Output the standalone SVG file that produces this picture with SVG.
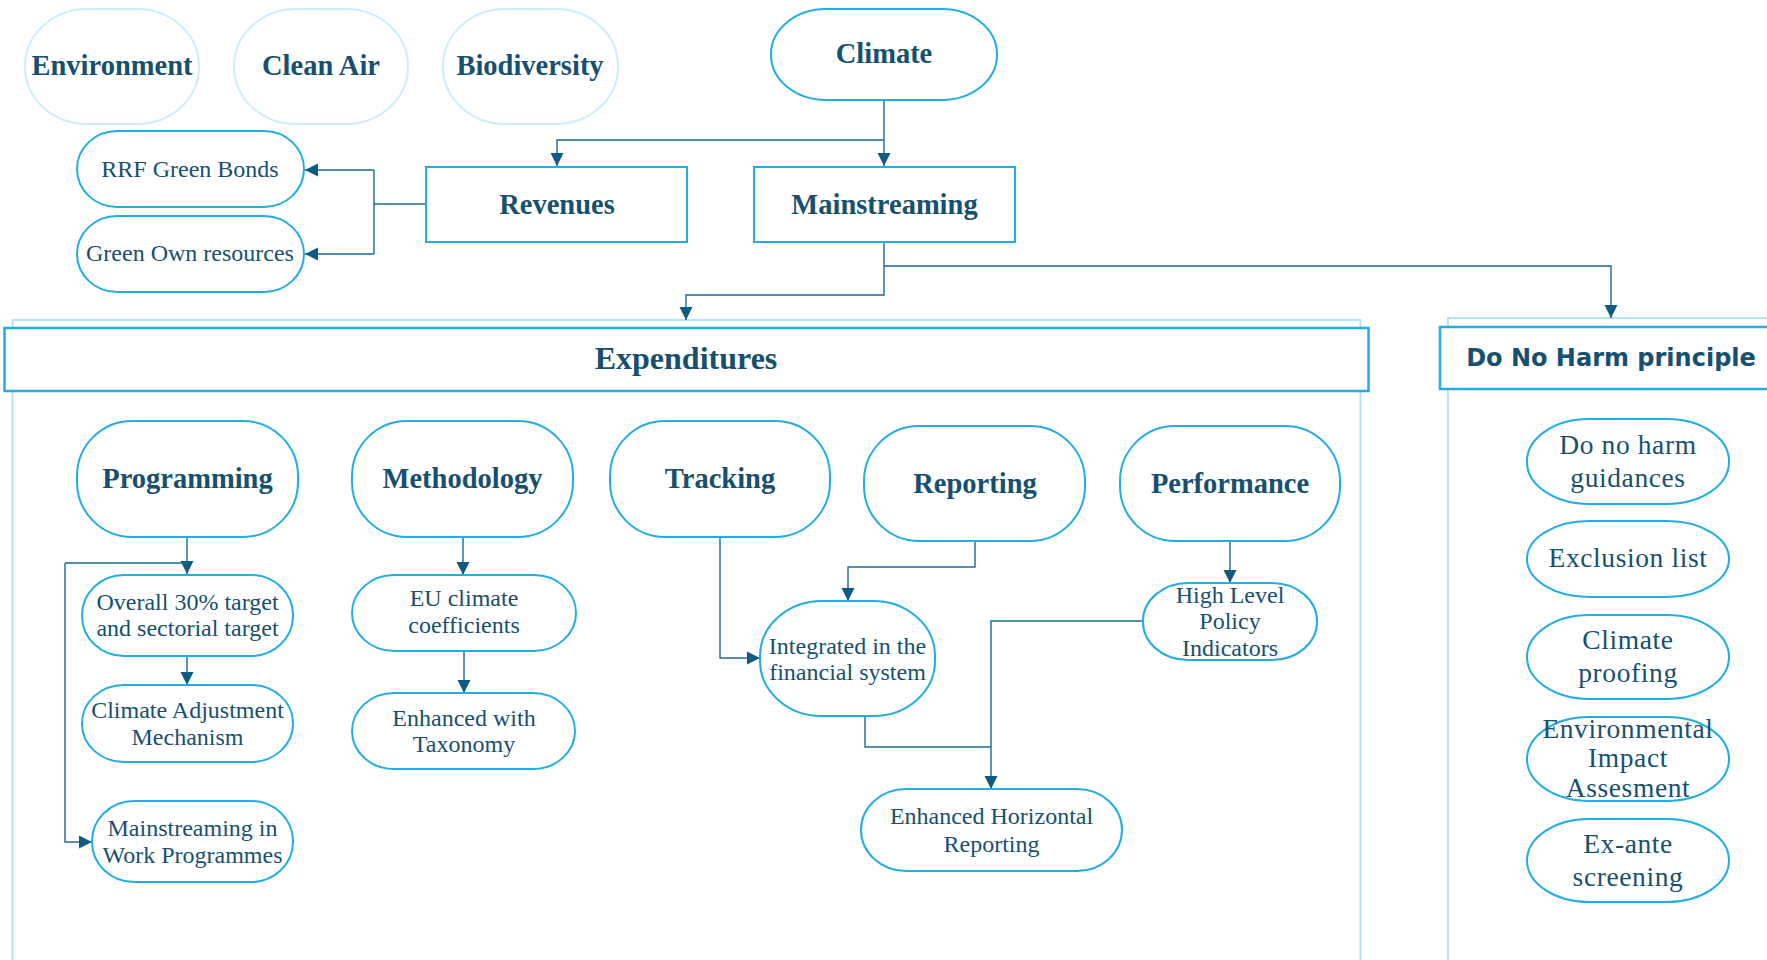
<svg xmlns="http://www.w3.org/2000/svg" width="1767" height="960" viewBox="0 0 1767 960">
<defs>
<marker id="arr" markerUnits="userSpaceOnUse" markerWidth="14" markerHeight="14" viewBox="0 0 14 14" refX="13" refY="7" orient="auto">
<path d="M0,0.5 L13,7 L0,13.5 Z" fill="#0f5b82"/>
</marker>
<style>
.n{fill:#fff;stroke:#22ade4;stroke-width:2}
.lt{fill:#fff;stroke:#cdeefa;stroke-width:2}
.ct{fill:none;stroke:#b6e3f5;stroke-width:2}
.hd{fill:#fff;stroke:#22ade4;stroke-width:2.5}
.c{fill:none;stroke:#1b6a90;stroke-width:1.4}
.ca{fill:none;stroke:#1b6a90;stroke-width:1.4;marker-end:url(#arr)}
text{fill:#17506e;font-family:"Liberation Serif","DejaVu Serif",serif;text-anchor:middle}
.b{font-weight:bold;font-size:28.5px}
.r{font-size:24px}
.w{font-size:27.5px;letter-spacing:0.6px}
.s{font-family:"DejaVu Sans","Liberation Sans",sans-serif;font-weight:bold;font-size:24px}
</style>
</defs>
<rect width="1767" height="960" fill="#fff"/>

<g id="containers">
<rect class="ct" x="12.5" y="320" width="1348" height="680"/>
<rect class="ct" x="1448" y="318" width="400" height="700"/>
</g>

<g id="connectors">
<path class="ca" d="M884,100 V166"/>
<path class="ca" d="M884,140 H557 V166"/>
<path class="c" d="M426,204 H374"/>
<path class="c" d="M374,170 V254"/>
<path class="ca" d="M374,170 H305"/>
<path class="ca" d="M374,254 H305"/>
<path class="ca" d="M884,243 V295 H686 V320"/>
<path class="ca" d="M884,266 H1611 V318"/>
<path class="ca" d="M187,537 V574"/>
<path class="c" d="M65,563 H187"/>
<path class="ca" d="M65,563 V842 H92"/>
<path class="ca" d="M187,656 V685"/>
<path class="ca" d="M463,537 V575"/>
<path class="ca" d="M464,651 V693"/>
<path class="ca" d="M720,537 V658 H760"/>
<path class="ca" d="M975,541 V567 H848 V601"/>
<path class="ca" d="M1230,541 V583"/>
<path class="ca" d="M1143,621 H991 V789"/>
<path class="c" d="M865,716 V747 H991"/>
</g>

<g id="environment"><rect class="lt" x="25" y="9" width="174" height="115" rx="62" ry="57"/><text class="b" x="112" y="75">Environment</text></g>
<g id="clean-air"><rect class="lt" x="234" y="9" width="174" height="115" rx="62" ry="57"/><text class="b" x="321" y="75">Clean Air</text></g>
<g id="biodiversity"><rect class="lt" x="443" y="9" width="175" height="115" rx="62" ry="57"/><text class="b" x="530" y="75">Biodiversity</text></g>
<g id="climate"><rect class="n" x="771" y="9" width="226" height="91" rx="55" ry="45"/><text class="b" x="884" y="63">Climate</text></g>

<g id="revenues"><rect class="n" x="426" y="167" width="261" height="75"/><text class="b" x="557" y="214">Revenues</text></g>
<g id="mainstreaming"><rect class="n" x="754" y="167" width="261" height="75"/><text class="b" x="884.5" y="214">Mainstreaming</text></g>
<g id="rrf-green-bonds"><rect class="n" x="77" y="131" width="227" height="76" rx="40" ry="38"/><text class="r" x="190" y="177">RRF Green Bonds</text></g>
<g id="green-own-resources"><rect class="n" x="77" y="216" width="227" height="76" rx="40" ry="38"/><text class="r" x="190" y="261">Green Own resources</text></g>

<g id="expenditures"><rect class="hd" x="4.5" y="328" width="1364" height="63"/><text class="b" style="font-size:32px" x="686" y="369">Expenditures</text></g>
<g id="do-no-harm-principle"><rect class="hd" x="1440" y="327" width="400" height="62"/><text class="s" x="1611" y="366">Do No Harm principle</text></g>

<g id="programming"><rect class="n" x="77" y="421" width="221" height="116" rx="55" ry="55"/><text class="b" x="187.5" y="488">Programming</text></g>
<g id="methodology"><rect class="n" x="352" y="421" width="221" height="116" rx="55" ry="55"/><text class="b" x="462.5" y="488">Methodology</text></g>
<g id="tracking"><rect class="n" x="610" y="421" width="220" height="116" rx="55" ry="55"/><text class="b" x="720" y="488">Tracking</text></g>
<g id="reporting"><rect class="n" x="864" y="426" width="221" height="115" rx="55" ry="55"/><text class="b" x="975" y="493">Reporting</text></g>
<g id="performance"><rect class="n" x="1120" y="426" width="220" height="115" rx="55" ry="55"/><text class="b" x="1230" y="493">Performance</text></g>

<g id="overall-target"><rect class="n" x="82" y="575" width="211" height="81" rx="42" ry="40"/><text class="r" x="187.5" y="610">Overall 30% target</text><text class="r" x="187.5" y="636">and sectorial target</text></g>
<g id="climate-adjustment"><rect class="n" x="82" y="685" width="211" height="77" rx="42" ry="38"/><text class="r" x="187.5" y="718">Climate Adjustment</text><text class="r" x="187.5" y="745">Mechanism</text></g>
<g id="mainstreaming-work-programmes"><rect class="n" x="92" y="801" width="201" height="81" rx="42" ry="40"/><text class="r" x="192.5" y="836">Mainstreaming in</text><text class="r" x="192.5" y="863">Work Programmes</text></g>
<g id="eu-climate-coefficients"><rect class="n" x="352" y="575" width="224" height="76" rx="42" ry="38"/><text class="r" x="464" y="606">EU climate</text><text class="r" x="464" y="633">coefficients</text></g>
<g id="enhanced-taxonomy"><rect class="n" x="352" y="693" width="223" height="76" rx="42" ry="38"/><text class="r" x="464" y="726">Enhanced with</text><text class="r" x="464" y="752">Taxonomy</text></g>
<g id="integrated-financial-system"><rect class="n" x="760" y="601" width="175" height="115" rx="62" ry="55"/><text class="r" x="847.5" y="654">Integrated in the</text><text class="r" x="847.5" y="680">financial system</text></g>
<g id="high-level-policy-indicators"><rect class="n" x="1143" y="583" width="174" height="77" rx="45" ry="38"/><text class="r" x="1230" y="603">High Level</text><text class="r" x="1230" y="629">Policy</text><text class="r" x="1230" y="656">Indicators</text></g>
<g id="enhanced-horizontal-reporting"><rect class="n" x="861" y="789" width="261" height="82" rx="45" ry="41"/><text class="r" x="991.5" y="824">Enhanced Horizontal</text><text class="r" x="991.5" y="852">Reporting</text></g>

<g id="do-no-harm-guidances"><rect class="n" x="1527" y="419" width="202" height="85" rx="62" ry="42"/><text class="w" x="1628" y="454">Do no harm</text><text class="w" x="1628" y="487">guidances</text></g>
<g id="exclusion-list"><rect class="n" x="1527" y="521" width="202" height="76" rx="62" ry="38"/><text class="w" x="1628" y="567">Exclusion list</text></g>
<g id="climate-proofing"><rect class="n" x="1527" y="615" width="202" height="84" rx="62" ry="42"/><text class="w" x="1628" y="649">Climate</text><text class="w" x="1628" y="682">proofing</text></g>
<g id="environmental-impact-assesment"><rect class="n" x="1527" y="717" width="202" height="84" rx="62" ry="42"/><text class="w" x="1628" y="738">Environmental</text><text class="w" x="1628" y="767">Impact</text><text class="w" x="1628" y="797">Assesment</text></g>
<g id="ex-ante-screening"><rect class="n" x="1527" y="819" width="202" height="83" rx="62" ry="42"/><text class="w" x="1628" y="853">Ex-ante</text><text class="w" x="1628" y="886">screening</text></g>
</svg>
